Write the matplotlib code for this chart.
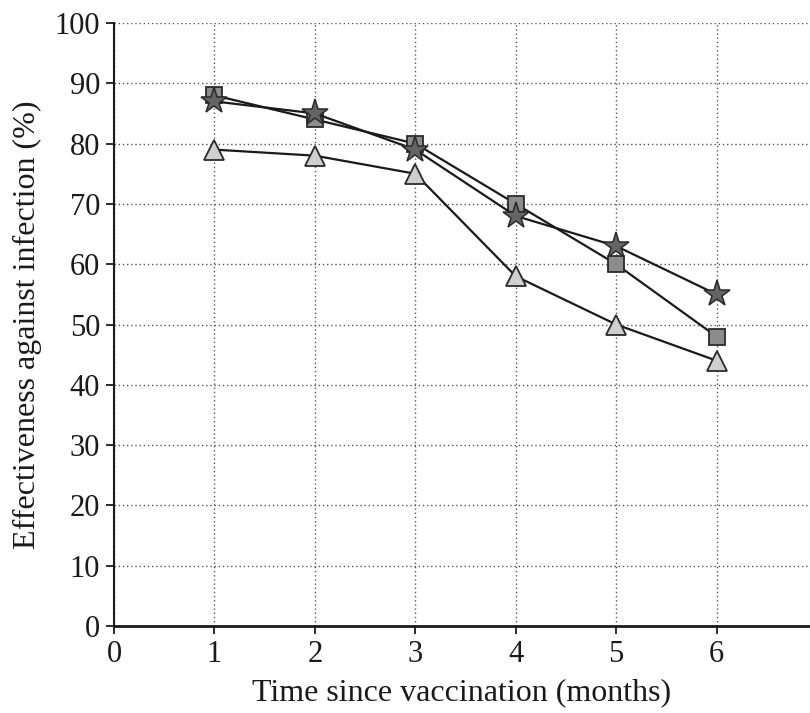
import matplotlib
matplotlib.use("Agg")
import matplotlib.pyplot as plt

months = [1, 2, 3, 4, 5, 6]
squares = [88, 84, 80, 70, 60, 48]
stars = [87, 85, 79, 68, 63, 55]
triangles = [79, 78, 75, 58, 50, 44]
xticks = [0, 1, 2, 3, 4, 5, 6]
yticks = [0, 10, 20, 30, 40, 50, 60, 70, 80, 90, 100]

plt.rcParams['font.family'] = ['Liberation Serif', 'DejaVu Serif']

fig = plt.figure(figsize=(8.10, 7.13), dpi=100)
ax = fig.add_axes([114/810, 1-626/713, 1-114/810, (626-23)/713])

ax.plot(months, triangles, color='#1a1a1a', lw=1.6, marker='^', ms=14,
        mfc='#cfcfcf', mec='#2a2a2a', mew=1.3, zorder=3, clip_on=False)
ax.plot(months, squares, color='#1a1a1a', lw=1.6, marker='s', ms=11.5,
        mfc='#8c8c8c', mec='#2a2a2a', mew=1.3, zorder=4, clip_on=False)
ax.plot(months, stars, color='#1a1a1a', lw=1.6, marker='*', ms=20,
        mfc='#646464', mec='#2a2a2a', mew=1.1, zorder=5, clip_on=False)

ax.set_xlim(0, 6.93)
ax.set_ylim(0, 100)
ax.set_xticks(xticks)
ax.set_yticks(yticks)
ax.tick_params(axis='both', labelsize=22, direction='out', length=6, width=1.3,
               color='#1a1a1a', labelcolor='#1a1a1a')
ax.tick_params(axis='x', pad=4)
ax.tick_params(axis='y', pad=4)

ax.grid(True, linestyle=(0, (1, 2)), color='#555555', lw=1.0)
ax.set_axisbelow(True)
for s in ['top', 'right']:
    ax.spines[s].set_visible(False)
ax.spines['left'].set_linewidth(1.5)
ax.spines['bottom'].set_linewidth(2.0)
ax.spines['left'].set_color('#1a1a1a')
ax.spines['bottom'].set_color('#1a1a1a')

ax.set_xlabel('Time since vaccination (months)', fontsize=23, color='#1a1a1a', labelpad=7)
ax.set_ylabel('Effectiveness against infection (%)', fontsize=23, color='#1a1a1a', labelpad=9)

fig.savefig('out.png', dpi=100)
